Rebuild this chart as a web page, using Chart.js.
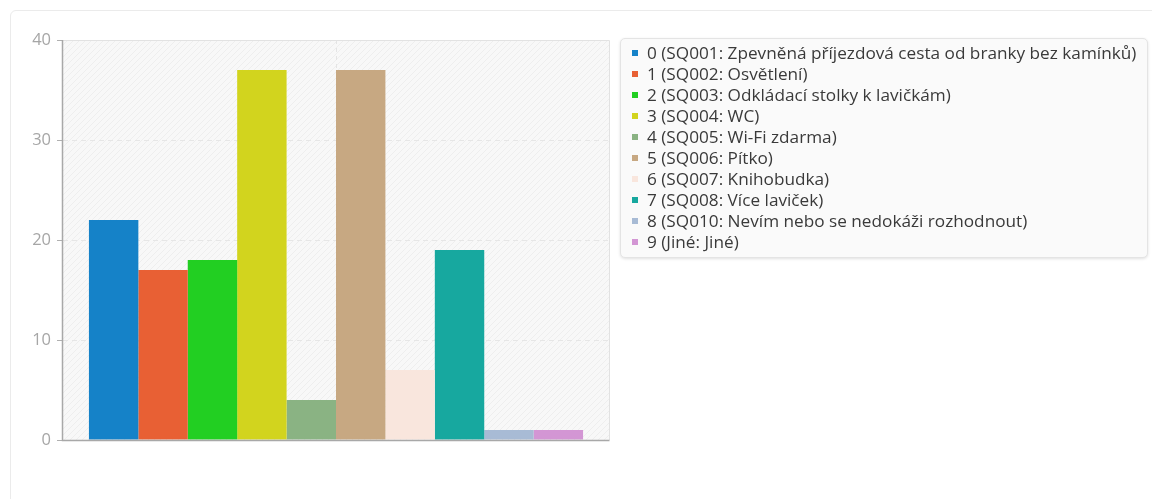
<!DOCTYPE html>
<html>
<head>
<meta charset="utf-8">
<script src="https://cdn.jsdelivr.net/npm/chart.js@4"></script>
<style>
  html, body { margin: 0; padding: 0; background: #fff; width: 1152px; height: 499px; overflow: hidden; }
  .card { position: absolute; left: 10px; top: 10px; width: 1160px; height: 520px; border: 1px solid #ebebeb; border-radius: 6px; }
  #wrap { position: absolute; left: 0; top: 0; width: 620px; height: 499px; }
  #legend { position: absolute; left: 620px; top: 38px; width: 526px; padding: 3px 0 5px 0;
    background: #fafafa; border: 1px solid #e4e4e4; border-radius: 5px;
    box-shadow: 0 1px 3px rgba(0,0,0,0.12); font-family: "Open Sans", sans-serif; font-size: 17.2px; color: #3a3a3a; }
  .item { height: 21px; line-height: 21px; padding-left: 11px; white-space: nowrap; }
  .sw { display: inline-block; width: 6px; height: 6px; margin-right: 9px; vertical-align: middle; position: relative; top: -1px; }
</style>
</head>
<body>
<div class="card"></div>
<div id="wrap"><canvas id="chart"></canvas></div>
<div id="legend"></div>
<script>
// survey answers, one bar per option
const labels = [
  '0 (SQ001: Zpevněná příjezdová cesta od branky bez kamínků)',
  '1 (SQ002: Osvětlení)',
  '2 (SQ003: Odkládací stolky k lavičkám)',
  '3 (SQ004: WC)',
  '4 (SQ005: Wi-Fi zdarma)',
  '5 (SQ006: Pítko)',
  '6 (SQ007: Knihobudka)',
  '7 (SQ008: Více laviček)',
  '8 (SQ010: Nevím nebo se nedokáži rozhodnout)',
  '9 (Jiné: Jiné)'
];
const counts = [22, 17, 18, 37, 4, 37, 7, 19, 1, 1];
const colors = ['#1582c8', '#e86034', '#22cf22', '#d2d41e', '#8ab383', '#c7a882', '#f9e6dd', '#17a89f', '#a8bbd5', '#d396d4'];
const yTicks = [0, 10, 20, 30, 40];

// hatched plot background + frame
const plotBg = {
  id: 'plotBg',
  beforeDraw(chart) {
    const { ctx, chartArea: a } = chart;
    const p = document.createElement('canvas');
    p.width = 6; p.height = 6;
    const pc = p.getContext('2d');
    pc.fillStyle = '#f8f8f8';
    pc.fillRect(0, 0, 6, 6);
    pc.strokeStyle = '#eeeeee';
    pc.lineWidth = 1;
    pc.beginPath();
    pc.moveTo(0, 6); pc.lineTo(6, 0);
    pc.moveTo(-1, 1); pc.lineTo(1, -1);
    pc.moveTo(5, 7); pc.lineTo(7, 5);
    pc.stroke();
    ctx.save();
    ctx.fillStyle = ctx.createPattern(p, 'repeat');
    ctx.fillRect(a.left, a.top, a.right - a.left, a.bottom - a.top);
    ctx.restore();
  },
  afterDraw(chart) {
    const { ctx, chartArea: a } = chart;
    ctx.save();
    ctx.lineWidth = 1;
    ctx.strokeStyle = '#e2e2e2';
    ctx.beginPath();
    ctx.moveTo(a.left, a.top + 0.5); ctx.lineTo(a.right + 0.5, a.top + 0.5);
    ctx.lineTo(a.right + 0.5, a.bottom);
    ctx.stroke();
    ctx.strokeStyle = '#a8a8a8';
    ctx.lineWidth = 1.5;
    ctx.beginPath();
    ctx.moveTo(a.left - 0.5, a.top); ctx.lineTo(a.left - 0.5, a.bottom + 0.5);
    ctx.lineTo(a.right + 0.5, a.bottom + 0.5);
    ctx.stroke();
    ctx.restore();
  }
};

const datasets = labels.map((l, i) => ({
  label: l,
  data: [counts[i]],
  backgroundColor: colors[i],
  borderWidth: 0,
  categoryPercentage: 0.905,
  barPercentage: 1
}));

new Chart(document.getElementById('chart'), {
  type: 'bar',
  data: { labels: [''], datasets },
  options: {
    responsive: true,
    maintainAspectRatio: false,
    animation: false,
    layout: { padding: { left: 0, top: 40, right: 11, bottom: 59 } },
    plugins: { legend: { display: false }, tooltip: { enabled: false } },
    scales: {
      x: {
        grid: { offset: false, color: '#e4e4e4', drawTicks: false },
        border: { display: false, dash: [4, 4] },
        ticks: { display: false },
        afterFit(s) { s.height = 0; }
      },
      y: {
        min: 0,
        max: 40,
        afterBuildTicks(s) { s.ticks = yTicks.map(v => ({ value: v })); },
        afterFit(s) { s.width = 63; },
        grid: { color: '#e6e6e6', tickColor: '#b0b0b0', tickLength: 6 },
        border: { display: false, dash: [5, 4] },
        ticks: { color: '#a6a6a6', padding: 6, font: { family: 'Open Sans', size: 16.5 } }
      }
    }
  },
  plugins: [plotBg]
});

// html legend
const legendEl = document.getElementById('legend');
labels.forEach((l, i) => {
  const row = document.createElement('div');
  row.className = 'item';
  row.innerHTML = '<span class="sw" style="background:' + colors[i] + '"></span>' + l;
  legendEl.appendChild(row);
});
</script>
</body>
</html>
